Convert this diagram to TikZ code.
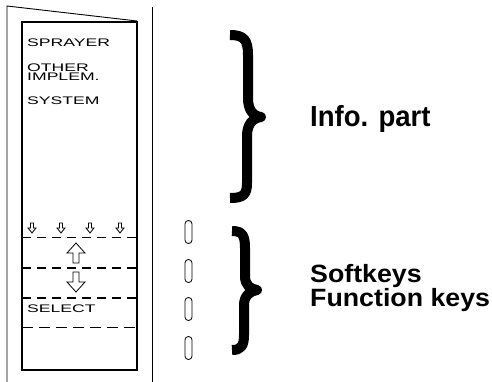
\documentclass[tikz,border=0pt]{standalone}
\usepackage{graphicx}
\usepackage{fontspec}
\setmainfont{Liberation Sans}
\newcommand{\lcdtext}[1]{\scalebox{1.6}[1]{\fontsize{11}{11}\selectfont #1}}
\begin{document}
\begin{tikzpicture}[x=1pt,y=-1pt,
  frame/.style={line width=0.9pt},
  screen/.style={line width=1.3pt},
  sepline/.style={line width=1.2pt, dash pattern=on 9pt off 6pt},
  thinsep/.style={line width=0.6pt, dash pattern=on 11pt off 6pt},
  lcd/.style={anchor=base west, inner sep=0pt},
  bigtext/.style={anchor=base west, inner sep=0pt},
  brace/.style={line width=10pt, line join=round},
  keyshape/.style={draw, rounded corners=3.4pt, minimum width=7pt, minimum height=23pt, inner sep=0pt, line width=0.8pt},
  arrowshape/.style={line width=0.8pt, line join=miter}]
\useasboundingbox (0,0) rectangle (492,382);

% housing (open door)
\draw[frame] (7,382) -- (7,6) -- (137,21);
\draw[frame] (152,7) -- (152,382);
% screen
\draw[screen] (22,22) rectangle (137,370);

% info texts
\node[lcd] (sprayer) at (27,46.5) {\lcdtext{SPRAYER}};
\node[lcd] (other) at (27,71.5) {\lcdtext{OTHER}};
\node[lcd] (implem) at (27,81) {\lcdtext{IMPLEM.}};
\node[lcd] (system) at (27,104.5) {\lcdtext{SYSTEM}};

% small down arrows
\foreach \cx in {32,61,90,120}{
  \draw[arrowshape] (\cx-1.5,223) -- (\cx+1.5,223) -- (\cx+1.5,228) -- (\cx+4,228) -- (\cx,233) -- (\cx-4,228) -- (\cx-1.5,228) -- cycle;
}
\draw[sepline] (22,237.5) -- (137,237.5);
% up arrow
\draw[arrowshape] (76,243) -- (85,253) -- (79,253) -- (79,263) -- (73,263) -- (73,253) -- (67,253) -- cycle;
\draw[sepline] (22,268) -- (137,268);
% down arrow
\draw[arrowshape] (73,272) -- (79,272) -- (79,282) -- (85,282) -- (76,292) -- (67,282) -- (73,282) -- cycle;
\draw[sepline] (22,298) -- (137,298);
\node[lcd] (select) at (27,312) {\lcdtext{SELECT}};
\draw[thinsep] (22,327) -- (137,327);

% keys
\node[keyshape] (k1) at (188.5,232) {};
\node[keyshape] (k2) at (188.5,271) {};
\node[keyshape] (k3) at (188.5,309) {};
\node[keyshape] (k4) at (188.5,348) {};

% braces
\draw[brace] (230,35) .. controls (244,35) and (248,40) .. (248,55) -- (248,98)
  .. controls (248,110) and (253,116) .. (261,117)
  .. controls (253,118) and (247,124) .. (247,136) -- (247,183)
  .. controls (247,195) and (243,198) .. (230,198);
\draw[brace] (232,231) .. controls (242,231) and (245,235) .. (245,248) -- (245,276)
  .. controls (245,285) and (250,289) .. (257,290)
  .. controls (250,291) and (244,296) .. (244,305) -- (244,335)
  .. controls (244,346) and (241,350) .. (232,350);

% labels
\node[bigtext] (info) at (310,127) {\scalebox{0.95}[1]{\bfseries\fontsize{29}{29}\selectfont Info. part}};
\node[bigtext] (soft) at (310,282) {\scalebox{1.07}[1]{\bfseries\fontsize{25}{25}\selectfont Softkeys}};
\node[bigtext] (func) at (310,306) {\scalebox{1.07}[1]{\bfseries\fontsize{25}{25}\selectfont Function keys}};
\end{tikzpicture}
\end{document}
